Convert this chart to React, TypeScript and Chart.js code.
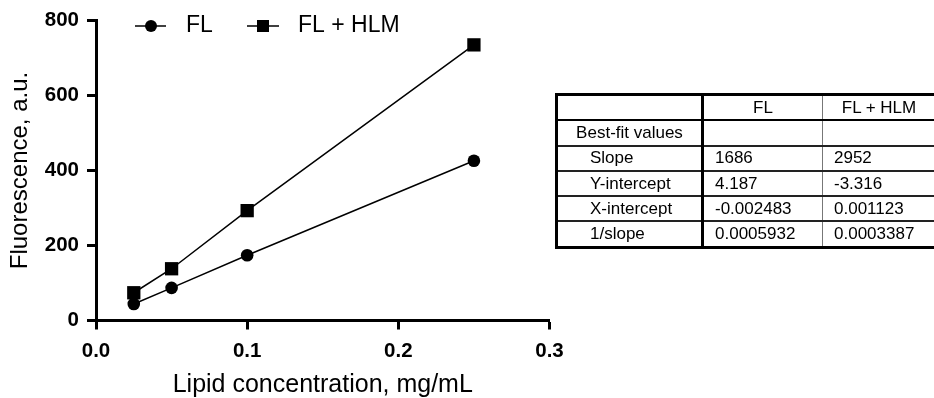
import React, { useEffect, useRef } from "react";
import { Chart, registerables } from "chart.js";

Chart.register(...registerables);

const xValues = [0.025, 0.05, 0.1, 0.25];
const flValues = [44, 87, 174, 426];
const flHlmValues = [74, 138, 293, 735];
const seriesLabels = ["FL", "FL + HLM"];
const xTicks = [0, 0.1, 0.2, 0.3];
const yTicks = [0, 200, 400, 600, 800];
const xTitle = "Lipid concentration, mg/mL";
const yTitle = "Fluorescence, a.u.";
const tableHeader = ["", "FL", "FL + HLM"];
const tableRowLabels = ["Best-fit values", "Slope", "Y-intercept", "X-intercept", "1/slope"];
const tableFL = ["", "1686", "4.187", "-0.002483", "0.0005932"];
const tableFLHLM = ["", "2952", "-3.316", "0.001123", "0.0003387"];

const FONT = "'Liberation Sans', Arial, Helvetica, sans-serif";

const legendPlugin = {
  id: "lineLegend",
  afterDraw(chart: any) {
    const ctx = chart.ctx;
    const items = [
      { lineStart: 135, lineEnd: 166, marker: 151, text: 186 },
      { lineStart: 247, lineEnd: 279, marker: 263, text: 298 },
    ];
    const y = 26;
    chart.data.datasets.forEach((ds: any, i: number) => {
      const it = items[i];
      if (!it) return;
      ctx.save();
      ctx.strokeStyle = "#000";
      ctx.lineWidth = 1.5;
      ctx.beginPath();
      ctx.moveTo(it.lineStart, y);
      ctx.lineTo(it.lineEnd, y);
      ctx.stroke();
      ctx.fillStyle = "#000";
      if (ds.pointStyle === "rect") {
        ctx.fillRect(it.marker - 6, y - 6, 12, 12);
      } else {
        ctx.beginPath();
        ctx.arc(it.marker, y, 6, 0, Math.PI * 2);
        ctx.fill();
      }
      ctx.font = `23px ${FONT}`;
      ctx.textBaseline = "middle";
      ctx.textAlign = "left";
      ctx.fillText(ds.label, it.text, y);
      ctx.restore();
    });
  },
};

export default function App() {
  const canvasRef = useRef<HTMLCanvasElement | null>(null);

  useEffect(() => {
    if (!canvasRef.current) return;
    const chart = new Chart(canvasRef.current, {
      type: "line",
      data: {
        datasets: [
          {
            label: seriesLabels[0],
            data: xValues.map((x, i) => ({ x, y: flValues[i] })),
            borderColor: "#000",
            backgroundColor: "#000",
            borderWidth: 1.5,
            pointStyle: "circle",
            pointRadius: 6.3,
            pointBorderWidth: 0,
            pointBackgroundColor: "#000",
            pointBorderColor: "#000",
            tension: 0,
            clip: false,
          },
          {
            label: seriesLabels[1],
            data: xValues.map((x, i) => ({ x, y: flHlmValues[i] })),
            borderColor: "#000",
            backgroundColor: "#000",
            borderWidth: 1.5,
            pointStyle: "rect",
            pointRadius: 9.4,
            pointBorderWidth: 0,
            pointBackgroundColor: "#000",
            pointBorderColor: "#000",
            tension: 0,
            clip: false,
          },
        ],
      },
      options: {
        animation: false,
        responsive: false,
        devicePixelRatio: 1,
        layout: { padding: { left: 0, top: 20.5, right: 384.5, bottom: 0 } },
        plugins: {
          legend: { display: false },
          tooltip: { enabled: false },
        },
        scales: {
          x: {
            type: "linear",
            min: 0,
            max: 0.3,
            afterBuildTicks: (s: any) => {
              s.ticks = xTicks.map((v) => ({ value: v }));
            },
            afterFit: (s: any) => {
              s.height = 77.5;
            },
            ticks: {
              color: "#000",
              font: { family: FONT, size: 20.5, weight: "bold" },
              padding: 10,
              maxRotation: 0,
              callback: (v: any) => Number(v).toFixed(1),
            },
            grid: {
              display: true,
              drawOnChartArea: false,
              drawTicks: true,
              tickLength: 9,
              tickWidth: 3,
              tickColor: "#000",
            },
            border: { display: true, width: 3, color: "#000" },
            title: {
              display: true,
              text: xTitle,
              color: "#000",
              font: { family: FONT, size: 25, lineHeight: 1 },
              padding: 0,
            },
          },
          y: {
            type: "linear",
            min: 0,
            max: 800,
            afterBuildTicks: (s: any) => {
              s.ticks = yTicks.map((v) => ({ value: v }));
            },
            afterFit: (s: any) => {
              s.width = 96;
            },
            ticks: {
              color: "#000",
              font: { family: FONT, size: 20.5, weight: "bold" },
              padding: 8,
              callback: (v: any) => String(v),
            },
            grid: {
              display: true,
              drawOnChartArea: false,
              drawTicks: true,
              tickLength: 9,
              tickWidth: 3,
              tickColor: "#000",
            },
            border: { display: true, width: 3, color: "#000" },
            title: {
              display: true,
              text: yTitle,
              color: "#000",
              font: { family: FONT, size: 24, lineHeight: 1 },
              padding: { top: 8, bottom: 0 },
            },
          },
        },
      },
      plugins: [legendPlugin],
    } as any);
    return () => chart.destroy();
  }, []);

  const cellBase: React.CSSProperties = {
    fontFamily: FONT,
    fontSize: 17,
    color: "#000",
    height: 23.3,
    padding: 0,
    verticalAlign: "middle",
    whiteSpace: "nowrap",
    overflow: "hidden",
    borderTop: "2px solid #222",
    borderBottom: "2px solid #222",
  };
  const col1: React.CSSProperties = { ...cellBase, borderRight: "3px solid #000" };
  const col2: React.CSSProperties = { ...cellBase, borderRight: "1.5px solid #777", paddingLeft: 11 };
  const col3: React.CSSProperties = { ...cellBase, paddingLeft: 11 };

  return (
    <div
      style={{
        position: "fixed",
        left: 0,
        top: 0,
        width: 934,
        height: 398,
        overflow: "hidden",
        background: "#fff",
      }}
    >
      <canvas
        ref={canvasRef}
        width={934}
        height={398}
        style={{ position: "absolute", left: 0, top: 0, width: 934, height: 398 }}
      />
      <table
        style={{
          position: "absolute",
          left: 555,
          top: 93,
          borderCollapse: "collapse",
          tableLayout: "fixed",
          border: "3px solid #000",
          width: 392,
        }}
      >
        <colgroup>
          <col style={{ width: 146 }} />
          <col style={{ width: 120 }} />
          <col style={{ width: 126 }} />
        </colgroup>
        <tbody>
          <tr>
            <td style={{ ...col1, borderBottom: "2px solid #000" }}>{tableHeader[0]}</td>
            <td style={{ ...col2, paddingLeft: 0, textAlign: "center", borderBottom: "2px solid #000" }}>
              {tableHeader[1]}
            </td>
            <td style={{ ...col3, paddingLeft: 0, paddingRight: 12, textAlign: "center", borderBottom: "2px solid #000" }}>
              {tableHeader[2]}
            </td>
          </tr>
          {tableRowLabels.map((label, i) => (
            <tr key={label}>
              <td
                style={{
                  ...col1,
                  textAlign: i === 0 ? "center" : "left",
                  paddingLeft: i === 0 ? 0 : 32,
                }}
              >
                {label}
              </td>
              <td style={col2}>{tableFL[i]}</td>
              <td style={col3}>{tableFLHLM[i]}</td>
            </tr>
          ))}
        </tbody>
      </table>
    </div>
  );
}
